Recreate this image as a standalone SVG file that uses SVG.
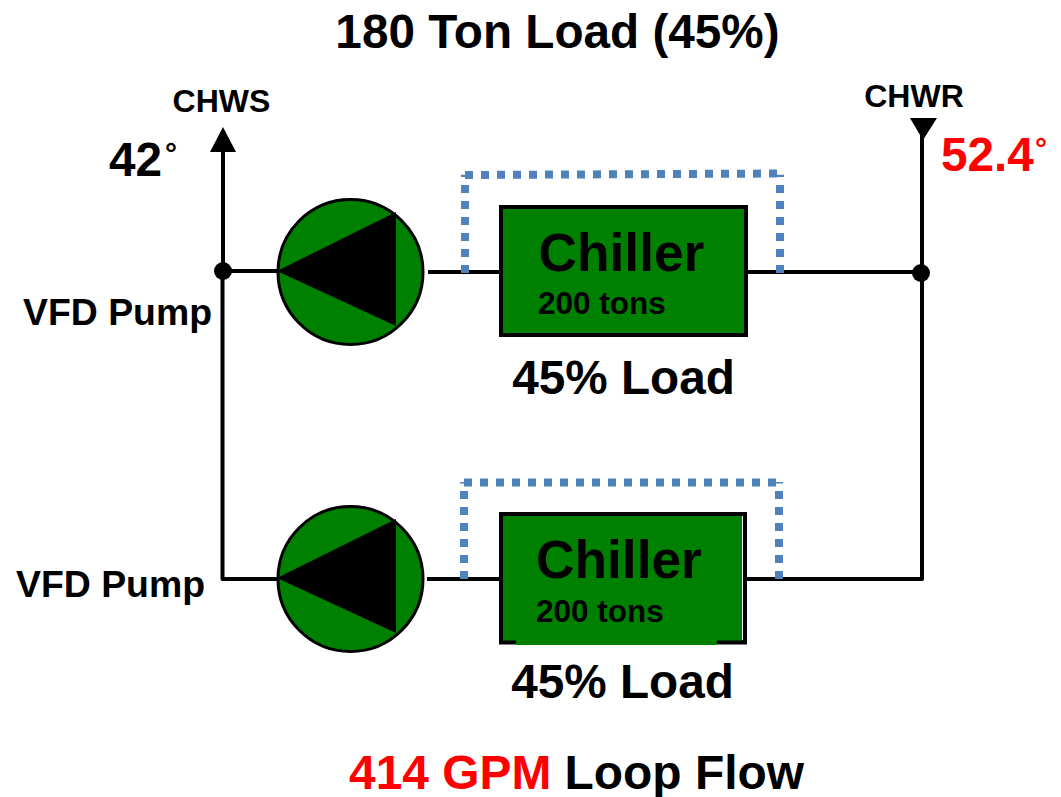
<svg xmlns="http://www.w3.org/2000/svg" width="1061" height="797" viewBox="0 0 1061 797">
<style>
text{font-family:"Liberation Sans",Arial,sans-serif;font-weight:700;fill:#000}
.t{font-size:47.7px}.w{font-size:47.9px}.l{font-size:37.4px}.c{font-size:53.3px}.n{font-size:31.5px}.h{font-size:32px}.d{font-size:30px}.r{fill:#f00}
.pipe{fill:none;stroke:#000;stroke-width:4;stroke-linejoin:round}
.bp{fill:none;stroke:#4f81bd;stroke-width:8;stroke-dasharray:8 8}
.tick{fill:none;stroke:#4f81bd;stroke-width:1.500}
.body{fill:#008000;stroke:#000;stroke-width:3}
.box{fill:#008000;stroke:#000;stroke-width:4}
</style>
<rect width="1061" height="797" fill="#fff"/>
<g id="connectors">
<path class="pipe" d="M223 148V271H277"/>
<path class="pipe" d="M222.500 271V579H277"/>
<path class="pipe" d="M428 272H500"/>
<path class="pipe" d="M427 579H500"/>
<path class="pipe" d="M746 272H921"/>
<path class="pipe" d="M746 579H922V130"/>
<polygon points="223,127 236,152 210,152" fill="#000"/>
<polygon points="923,140 910,118 937,118" fill="#000"/>
<circle cx="223" cy="271" r="9" fill="#000"/>
<circle cx="921" cy="273" r="9" fill="#000"/>
<path class="bp" d="M465 273V176"/><path class="bp" d="M780 273V176"/><path class="bp" d="M465 175L784 173.500"/>
<path class="tick" d="M461 175.500H465M776 175.500H784"/>
<path class="bp" d="M464 579V483"/><path class="bp" d="M779 579V483"/><path class="bp" d="M464 482.500H784"/>
<path class="tick" d="M460 482.700H464M776 482.700H783"/>
</g>
<g id="pump-1"><circle class="body" cx="350.500" cy="272" r="72.500"/><polygon points="277,271 396,212 396,326" fill="#000"/></g>
<g id="pump-2"><circle class="body" cx="350.500" cy="579" r="72.500"/><polygon points="277,578 396,519 396,633" fill="#000"/></g>
<g id="chiller-1"><rect class="box" x="501" y="207" width="245" height="128"/><text class="c" x="538.500" y="271">Chiller</text><text class="n" x="538" y="314">200 tons</text></g>
<g id="chiller-2"><rect class="box" x="501" y="514" width="244" height="128.500"/><rect x="516" y="640" width="201" height="5" fill="#008000"/><rect x="742" y="516" width="1" height="124" fill="#fff"/><text class="c" x="536" y="578">Chiller</text><text class="n" x="536" y="622">200 tons</text></g>
<g id="labels">
<text class="t" x="557.500" y="48" text-anchor="middle">180 Ton Load (45%)</text>
<text class="h" x="221.500" y="112" text-anchor="middle">CHWS</text>
<text class="h" x="914" y="107" text-anchor="middle">CHWR</text>
<text class="t" x="109" y="176">42</text><text class="d" x="165" y="164">°</text>
<text class="t r" x="941" y="171">52.4</text><text class="d r" x="1035" y="159">°</text>
<text class="l" x="23" y="325">VFD Pump</text>
<text class="l" x="16" y="597">VFD Pump</text>
<text class="t" x="623.500" y="394" text-anchor="middle">45% Load</text>
<text class="t" x="622.500" y="698" text-anchor="middle">45% Load</text>
<text class="w" x="576.500" y="789" text-anchor="middle"><tspan class="r">414 GPM</tspan> Loop Flow</text>
</g>
</svg>
